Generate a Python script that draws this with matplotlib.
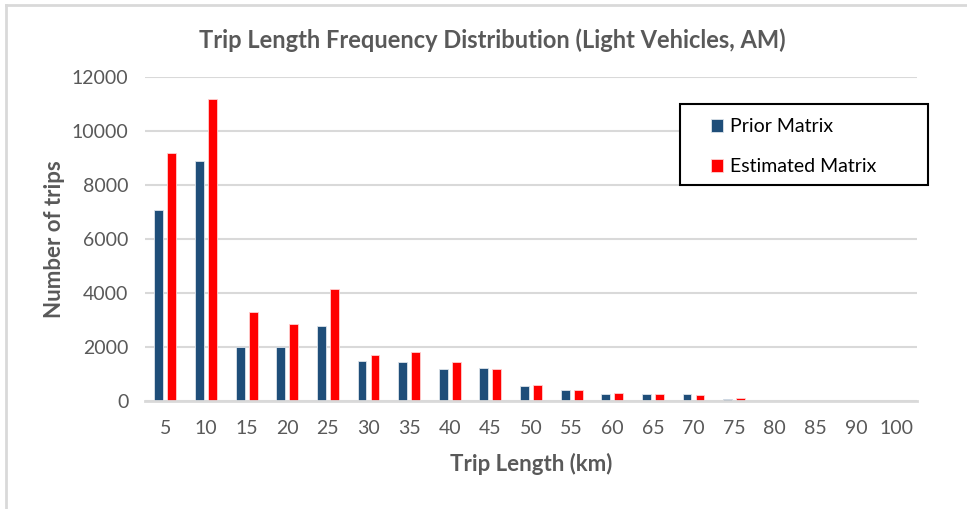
import matplotlib
matplotlib.use('Agg')
import matplotlib.pyplot as plt
import numpy as np
from matplotlib.patches import Rectangle
from matplotlib.lines import Line2D

# ── Data ──
trip_length = ['5', '10', '15', '20', '25', '30', '35', '40', '45', '50',
               '55', '60', '65', '70', '75', '80', '85', '90', '100']
prior_matrix = [7080, 8900, 2000, 2000, 2780, 1480, 1440, 1180, 1220, 560,
                390, 250, 250, 250, 90, 0, 0, 0, 0]
estimated_matrix = [9200, 11200, 3280, 2840, 4130, 1700, 1830, 1450, 1200, 590,
                    420, 300, 250, 210, 100, 0, 0, 0, 0]

# ── Style ──
GREY = '#595959'
GRID = '#D9D9D9'
BLUE = '#1F4E79'
RED = '#FF0000'

plt.rcParams.update({
    'font.family': ['Lato', 'DejaVu Sans'],
    'font.size': 14,
})

fig = plt.figure(figsize=(9.67, 5.09), dpi=100)
ax = fig.add_axes([145 / 967, 1 - 401 / 509, 772 / 967, 324 / 509])

x = np.arange(len(trip_length))
w = 0.22
off = 0.16
ax.bar(x - off, prior_matrix, width=w, color=BLUE, edgecolor='#DCE3EA',
       linewidth=0.6, label='Prior Matrix', zorder=3)
ax.bar(x + off, estimated_matrix, width=w, color=RED, edgecolor='#FFD0D0',
       linewidth=0.6, label='Estimated Matrix', zorder=3)

ax.set_xlim(-0.5, len(trip_length) - 0.5)
ax.set_ylim(0, 12000)
ax.set_yticks(np.arange(0, 12001, 2000))
ax.set_xticks(x)
ax.set_xticklabels(trip_length)
ax.tick_params(length=0, colors=GREY, labelsize=14)
ax.tick_params(axis='x', pad=14)
ax.tick_params(axis='y', pad=12)
ax.yaxis.grid(True, color=GRID, linewidth=1.5, zorder=0)
ax.set_axisbelow(True)
for s in ['top', 'right', 'left']:
    ax.spines[s].set_visible(False)
ax.spines['bottom'].set_color(GRID)
ax.spines['bottom'].set_linewidth(2)
ax.spines['bottom'].set_zorder(4)

ax.set_xlabel('Trip Length (km)', fontsize=16, fontweight='bold', color=GREY,
              labelpad=11)
ax.set_ylabel('Number of trips', fontsize=16, fontweight='bold', color=GREY,
              labelpad=5)

fig.text(492 / 967, 1 - 40 / 509,
         'Trip Length Frequency Distribution (Light Vehicles, AM)',
         ha='center', va='center', fontsize=17, fontweight='bold', color=GREY)

# legend box
fig.add_artist(Rectangle((680 / 967, 1 - 185 / 509), 248 / 967, 81 / 509,
                         transform=fig.transFigure, facecolor='white',
                         edgecolor='black', linewidth=1.5, zorder=5))
leg = fig.legend(loc='upper left', bbox_to_anchor=(693 / 967, 1 - 101 / 509),
                 frameon=False, handlelength=0.65, handleheight=0.65,
                 handletextpad=0.35, labelspacing=1.15, fontsize=14)
leg.set_zorder(6)

# outer chart frame (partially visible)
fig.add_artist(Line2D([6 / 967, 6 / 967], [0, 1 - 5 / 509],
                      transform=fig.transFigure, color=GRID, linewidth=2))
fig.add_artist(Line2D([6 / 967, 1], [1 - 5 / 509, 1 - 5 / 509],
                      transform=fig.transFigure, color=GRID, linewidth=2))

fig.savefig('out.png', dpi=100, facecolor='white')
